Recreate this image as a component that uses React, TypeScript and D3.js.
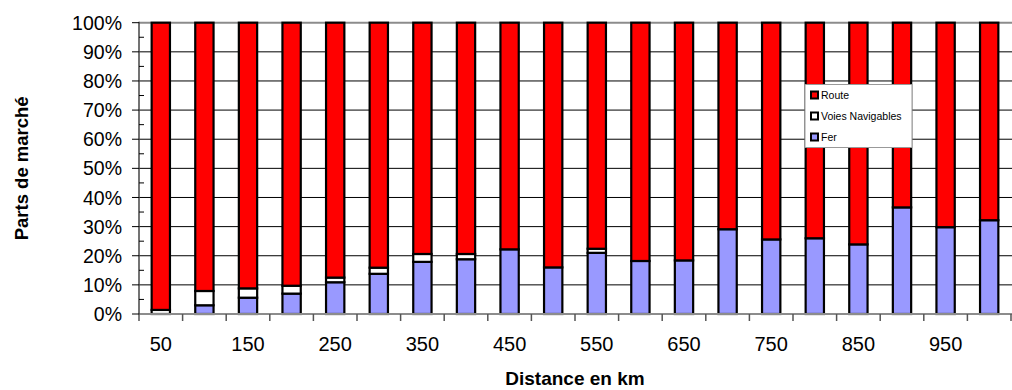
import React from "react";
import * as d3 from "d3";

// Distance classes (km)
const distances = [50, 100, 150, 200, 250, 300, 350, 400, 450, 500, 550, 600, 650, 700, 750, 800, 850, 900, 950, 1000];
// Market shares (%) per mode
const fer = [0, 3.0, 5.6, 7.0, 10.9, 13.8, 17.9, 18.8, 22.2, 16.0, 21.0, 18.2, 18.4, 29.1, 25.6, 26.0, 23.9, 36.6, 29.8, 32.2];
const voies = [1.4, 4.9, 3.2, 2.7, 1.6, 2.1, 2.7, 1.8, 0, 0, 1.4, 0, 0, 0, 0, 0, 0, 0, 0, 0];
const route = fer.map((f, i) => 100 - f - voies[i]);
const yTicks = [0, 10, 20, 30, 40, 50, 60, 70, 80, 90, 100];
const xLabels = [50, 150, 250, 350, 450, 550, 650, 750, 850, 950];

const modes = ["Fer", "Voies Navigables", "Route"];
const colors: Record<string, string> = { Fer: "#9999FF", "Voies Navigables": "#FFFFFF", Route: "#FF0000" };
const legendOrder = ["Route", "Voies Navigables", "Fer"];

const W = 1012, H = 390;
const left = 139, right = 1011, top = 22.7, bottom = 314;
const font = "'Liberation Sans', Arial, sans-serif";

export default function App() {
  const x = d3.scaleBand<number>().domain(distances).range([left, right]).padding(0);
  const y = d3.scaleLinear().domain([0, 100]).range([bottom, top]);
  const rows = distances.map((d, i) => ({ d, Fer: fer[i], "Voies Navigables": voies[i], Route: route[i] }));
  const stacked = d3.stack<any>().keys(modes)(rows);
  const bw = x.bandwidth() * 0.42;
  const minorTicks = d3.range(5, 100, 10);

  return (
    <svg width={W} height={H} style={{ position: "absolute", left: 0, top: 0, background: "#fff" }} fontFamily={font}>
      {/* gridlines */}
      {yTicks.filter(t => t > 0 && t < 100).map(t => (
        <line key={t} x1={left} x2={right + 1} y1={y(t)} y2={y(t)} stroke="#000" strokeWidth={1} />
      ))}
      <line x1={left} x2={W} y1={y(100)} y2={y(100)} stroke="#8c8c8c" strokeWidth={2} />
      {/* bars */}
      {stacked.map(layer => (
        <g key={layer.key}>
          {layer.map((s, i) => {
            const h = y(s[0]) - y(s[1]);
            if (h <= 0) return null;
            return (
              <rect key={i} x={x(distances[i])! + (x.bandwidth() - bw) / 2} y={y(s[1])} width={bw} height={h}
                fill={colors[layer.key]} stroke="#000" strokeWidth={2.2} />
            );
          })}
        </g>
      ))}
      {/* x axis */}
      <line x1={left} x2={W} y1={bottom} y2={bottom} stroke="#8c8c8c" strokeWidth={2} />
      {distances.map(d => (
        <line key={d} x1={x(d)!} x2={x(d)!} y1={bottom} y2={bottom + 7} stroke="#555" strokeWidth={1.5} />
      ))}
      <line x1={right} x2={right} y1={bottom} y2={bottom + 7} stroke="#555" strokeWidth={1.5} />
      {xLabels.map(v => (
        <text key={v} x={x(v)! + x.bandwidth() / 2} y={351} textAnchor="middle" fontSize={20} fill="#000">{v}</text>
      ))}
      {/* y axis */}
      <line x1={left} x2={left} y1={top - 1} y2={bottom} stroke="#444" strokeWidth={1.5} />
      {yTicks.map(t => (
        <line key={t} x1={left - 7} x2={left} y1={y(t)} y2={y(t)} stroke="#000" strokeWidth={1} />
      ))}
      {minorTicks.map(t => (
        <line key={t} x1={left} x2={left + 5} y1={y(t)} y2={y(t)} stroke="#000" strokeWidth={1} />
      ))}
      {yTicks.map(t => (
        <text key={t} x={122} y={y(t)} dy="0.36em" textAnchor="end" fontSize={19.5} fill="#000">{t}%</text>
      ))}
      {/* axis titles */}
      <text x={(left + right) / 2} y={385} textAnchor="middle" fontSize={19} fontWeight="bold">Distance en km</text>
      <text transform={`translate(28,${(top + bottom) / 2}) rotate(-90)`} textAnchor="middle" fontSize={18.5} fontWeight="bold">Parts de marché</text>
      {/* legend */}
      <g>
        <rect x={805} y={84.5} width={107} height={63} fill="#fff" stroke="#999" strokeWidth={1} />
        {legendOrder.map((k, i) => (
          <g key={k} transform={`translate(811,${95 + i * 21})`}>
            <rect x={0} y={-3.5} width={7} height={7} fill={colors[k]} stroke="#000" strokeWidth={2} />
            <text x={10} y={0} dy="0.36em" fontSize={10.5} fill="#000">{k}</text>
          </g>
        ))}
      </g>
    </svg>
  );
}
